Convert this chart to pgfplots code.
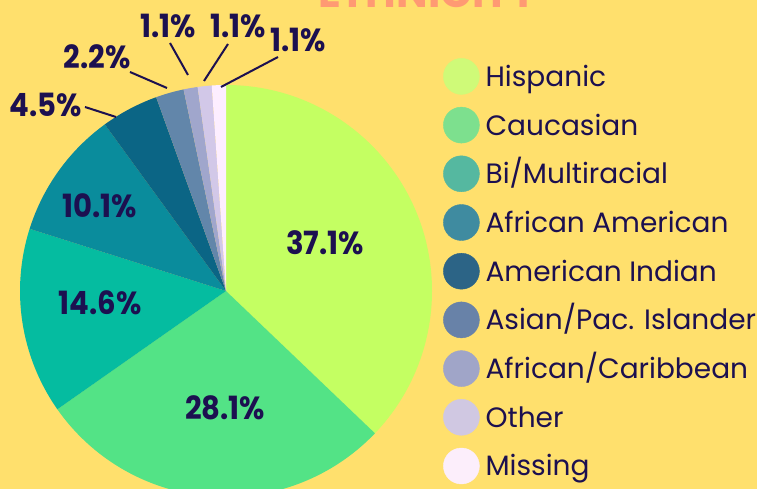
\documentclass[border=0pt]{standalone}
\usepackage{pgfplots}
\pgfplotsset{compat=1.18}
\usepackage{pgfplotstable}
\usepackage{graphicx}
\usepackage{fontspec}
\setmainfont{Poppins}
\newfontfamily\popfont{Poppins}

\definecolor{bg}{HTML}{FFE06D}
\definecolor{navy}{HTML}{1C1050}
\definecolor{salmon}{HTML}{FF9A73}
% pie colours
\definecolor{pc0}{HTML}{C4FF62}
\definecolor{pc1}{HTML}{53E386}
\definecolor{pc2}{HTML}{05BCA0}
\definecolor{pc3}{HTML}{0A8C9C}
\definecolor{pc4}{HTML}{0B6585}
\definecolor{pc5}{HTML}{6286AA}
\definecolor{pc6}{HTML}{A0A6CC}
\definecolor{pc7}{HTML}{D2C8E8}
\definecolor{pc8}{HTML}{FDEEFF}
% legend colours
\definecolor{lc0}{HTML}{CFFA78}
\definecolor{lc1}{HTML}{7DE08E}
\definecolor{lc2}{HTML}{55B8A0}
\definecolor{lc3}{HTML}{3F8BA0}
\definecolor{lc4}{HTML}{2C6486}
\definecolor{lc5}{HTML}{6882A8}
\definecolor{lc6}{HTML}{A0A5C8}
\definecolor{lc7}{HTML}{D0C8E2}
\definecolor{lc8}{HTML}{FCEEFB}

\pgfplotstableread{
idx value
0 37.1
1 28.1
2 14.6
3 10.1
4 4.5
5 2.2
6 1.1
7 1.1
8 1.1
}\piedata

\newcommand\pct[1]{\scalebox{0.91}[1]{\popfont\bfseries\fontsize{32}{32}\selectfont #1}}
\newcommand\legcirc[1]{\addlegendimage{legend image code/.code={\path (0pt,0pt) (42pt,0pt);\fill[#1] (18pt,0pt) circle[radius=18pt];}}}

\begin{document}
\begin{tikzpicture}[x=1pt,y=1pt]
\useasboundingbox (0,0) rectangle (757,489);
\clip (0,0) rectangle (757,489);
\fill[bg] (0,0) rectangle (757,489);
\begin{axis}[
  at={(0,0)}, anchor=south west, scale only axis,
  width=757pt, height=489pt,
  xmin=0, xmax=757, ymin=0, ymax=489,
  hide axis, clip=false,
  legend cell align=left,
  legend style={at={(axis cs:443,431)}, anchor=north west, draw=none, fill=none,
    inner sep=0pt, row sep=12.3pt,
    font=\popfont\fontsize{28}{30}\selectfont, text=navy,
    nodes={inner sep=0pt, text height=26pt, text depth=6pt}},
]
\def\cum{0}
\pgfplotsforeachungrouped \i in {0,...,8}{%
  \pgfplotstablegetelem{\i}{value}\of\piedata
  \pgfmathsetmacro\angA{90-\cum/99.9*360}%
  \pgfmathsetmacro\cum{\cum+\pgfplotsretval}%
  \pgfmathsetmacro\angB{90-\cum/99.9*360}%
  \edef\mywedge{\noexpand\fill[pc\i] (axis cs:226,198) -- ++(\angA:206pt) arc[start angle=\angA, end angle=\angB, radius=206pt] -- cycle;}%
  \mywedge
}

\legcirc{lc0}\addlegendentry{Hispanic}
\legcirc{lc1}\addlegendentry{Caucasian}
\legcirc{lc2}\addlegendentry{Bi/Multiracial}
\legcirc{lc3}\addlegendentry{African American}
\legcirc{lc4}\addlegendentry{American Indian}
\legcirc{lc5}\addlegendentry{Asian/Pac. Islander}
\legcirc{lc6}\addlegendentry{African/Caribbean}
\legcirc{lc7}\addlegendentry{Other}
\legcirc{lc8}\addlegendentry{Missing}

\node[text=navy] at (axis cs:325,246) {\pct{37.1\%}};
\node[text=navy] at (axis cs:225,81) {\pct{28.1\%}};
\node[text=navy] at (axis cs:100,186) {\pct{14.6\%}};
\node[text=navy] at (axis cs:100,283) {\pct{10.1\%}};
\node[text=navy] at (axis cs:46,384) {\pct{4.5\%}};
\node[text=navy] at (axis cs:97,432) {\pct{2.2\%}};
\node[text=navy] at (axis cs:168,463) {\pct{1.1\%}};
\node[text=navy] at (axis cs:238,463) {\pct{1.1\%}};
\node[text=navy] at (axis cs:298,449) {\pct{1.1\%}};

\draw[navy, line width=2pt] (axis cs:85,382) -- (axis cs:116,372);
\draw[navy, line width=2pt] (axis cs:130,417) -- (axis cs:167,401);
\draw[navy, line width=2pt] (axis cs:170,446) -- (axis cs:188,414);
\draw[navy, line width=2pt] (axis cs:228,445) -- (axis cs:204,408);
\draw[navy, line width=2pt] (axis cs:278,432) -- (axis cs:221,402);

\node[anchor=base, text=salmon, font=\popfont\bfseries\fontsize{42}{42}\selectfont] at (axis cs:428,481) {ETHNICITY};
\end{axis}
\end{tikzpicture}
\end{document}
